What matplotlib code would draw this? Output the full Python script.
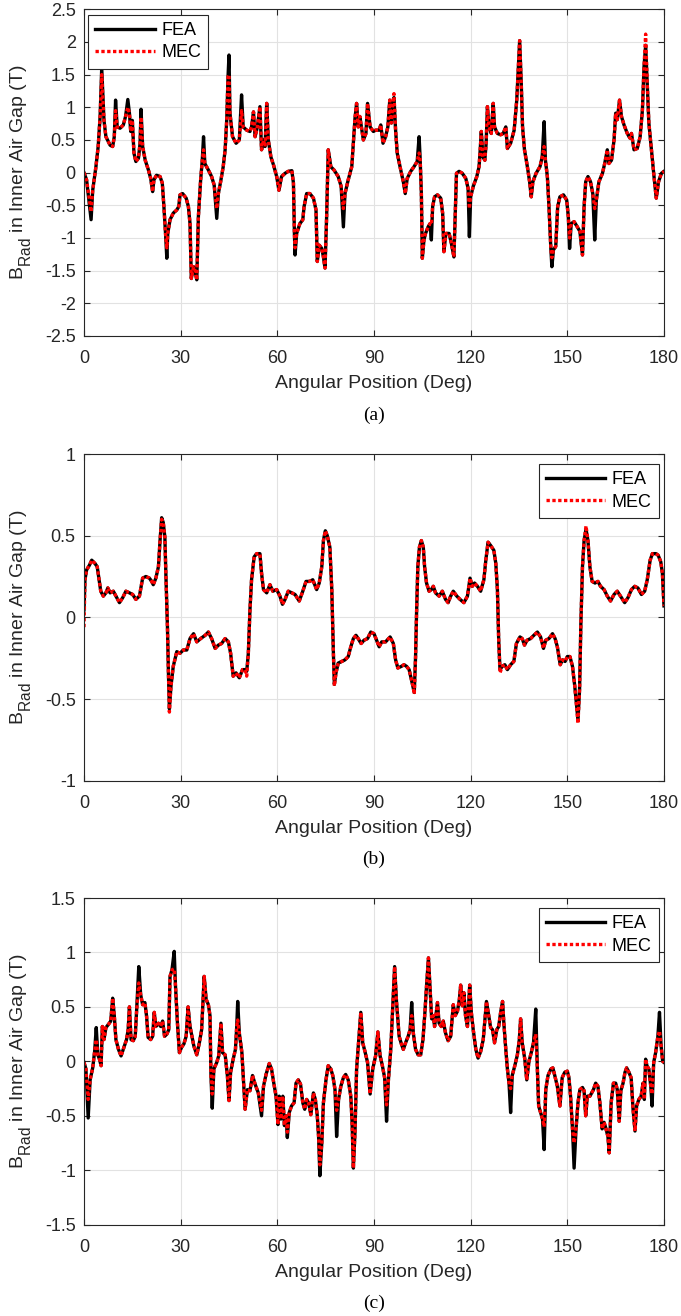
import numpy as np
import matplotlib
matplotlib.use('Agg')
import matplotlib.pyplot as plt
from matplotlib.ticker import FuncFormatter
import matplotlib._mathtext as mt

plt.rcParams['font.family'] = ['Liberation Sans', 'DejaVu Sans']
plt.rcParams['mathtext.fontset'] = 'custom'
plt.rcParams['mathtext.rm'] = 'Liberation Sans'
plt.rcParams['axes.unicode_minus'] = False
# subscript in the y label is large and well lowered in the original
mt.SHRINK_FACTOR = 0.8
mt.FontConstantsBase.sub1 = 0.75

# (angle [deg], B_rad [T])
fea_a = [
    (0, 0), (0.8, -0.11), (2.2, -0.72), (2.7, -0.27), (3.7, 0.09), (4.4, 0.4), (5.0, 0.86), (5.5, 1.6),
    (6.2, 0.8), (6.8, 0.55), (8.1, 0.42), (8.9, 0.4), (9.4, 0.55), (9.8, 1.11), (10.3, 0.7), (11.2, 0.68),
    (12.2, 0.73), (12.9, 0.86), (13.6, 1.12), (14.1, 0.91), (14.5, 0.63), (15.0, 0.8), (15.5, 0.3), (16.1, 0.17),
    (16.9, 0.22), (17.4, 0.45), (17.7, 0.97), (18.2, 0.4), (19.0, 0.19), (20.0, 0.04), (20.7, -0.09), (21.3, -0.29),
    (21.7, -0.11), (22.5, -0.04), (23.6, -0.06), (24.3, -0.16), (24.8, -0.52), (25.3, -0.93), (25.7, -1.31), (26.0, -0.93),
    (26.7, -0.72), (27.7, -0.62), (28.8, -0.57), (29.4, -0.52), (29.8, -0.34), (30.6, -0.32), (31.7, -0.39), (32.4, -0.52),
    (32.9, -0.78), (33.3, -1.62), (34.0, -1.44), (34.4, -1.49), (35.0, -1.64), (35.5, -0.67), (36.2, -0.11), (36.7, 0.19),
    (37.1, 0.55), (37.5, 0.14), (38.6, 0.04), (39.6, -0.06), (40.4, -0.19), (41.2, -0.7), (41.7, -0.32), (42.4, -0.14),
    (43.2, 0.09), (43.8, 0.35), (44.3, 0.81), (44.7, 1.47), (45.0, 1.8), (45.3, 0.91), (46.1, 0.55), (47.2, 0.45),
    (48.2, 0.5), (48.9, 1.19), (49.4, 0.7), (50.5, 0.65), (51.5, 0.63), (52.0, 0.7), (52.6, 0.93), (53.1, 0.55),
    (53.8, 0.7), (54.6, 1.01), (55.1, 0.35), (55.7, 0.5), (56.2, 0.4), (56.7, 1.06), (57.2, 0.5), (58.0, 0.24),
    (58.8, 0.12), (59.8, -0.06), (60.5, -0.27), (61.3, -0.06), (62.4, -0.01), (63.4, 0.02), (64.5, 0.03), (65.0, -0.16),
    (65.3, -0.93), (65.5, -1.26), (66.0, -0.93), (67.0, -0.78), (67.9, -0.72), (68.3, -0.52), (69.1, -0.32), (70.1, -0.32),
    (71.2, -0.39), (72.0, -0.57), (72.4, -1.36), (73.0, -1.11), (73.8, -1.16), (74.3, -1.29), (74.8, -1.46), (75.3, -0.67),
    (75.8, 0.35), (76.6, 0.09), (77.6, 0.04), (78.9, -0.06), (79.8, -0.21), (80.5, -0.83), (81.0, -0.32), (82.0, -0.11),
    (83.1, 0.09), (83.6, 0.45), (84.1, 0.83), (84.6, 1.06), (85.1, 0.7), (85.6, 0.86), (86.7, 0.5), (87.5, 0.6),
    (88.0, 1.06), (88.8, 0.7), (89.8, 0.63), (90.5, 0.65), (91.6, 0.65), (92.1, 0.73), (92.8, 0.45), (93.6, 0.55),
    (94.3, 0.7), (94.9, 1.11), (95.4, 0.76), (95.7, 1.01), (96.2, 1.15), (96.7, 0.65), (97.2, 0.3), (98.3, 0.04),
    (99.1, -0.14), (99.7, -0.32), (100.3, -0.09), (101.4, 0.02), (102.4, 0.09), (103.4, 0.17), (104.0, 0.55), (104.3, 0.24),
    (104.7, -0.32), (105.0, -1.31), (105.5, -1.03), (106.0, -0.93), (106.8, -0.83), (107.4, -0.78), (107.8, -1.03), (108.2, -0.52),
    (108.8, -0.37), (109.7, -0.34), (110.7, -0.39), (111.3, -0.62), (111.7, -1.21), (112.3, -0.93), (113.3, -0.93), (114.0, -1.08),
    (114.8, -1.29), (115.3, -0.52), (115.6, -0.01), (116.4, 0.02), (117.4, -0.01), (118.5, -0.09), (119.2, -0.24), (119.6, -0.98),
    (120.0, -0.37), (120.8, -0.21), (121.9, -0.06), (122.6, 0.09), (122.9, 0.3), (123.3, 0.63), (123.8, 0.24), (124.4, 0.19),
    (124.8, 0.45), (125.2, 1.01), (125.7, 0.7), (126.4, 0.6), (127.0, 1.06), (127.4, 0.7), (128.3, 0.6), (129.3, 0.58),
    (130.1, 0.6), (130.9, 0.7), (131.4, 0.37), (132.4, 0.45), (133.5, 0.65), (134.3, 1.11), (134.8, 1.62), (135.2, 2.02),
    (135.7, 1.37), (136.1, 0.7), (136.7, 0.35), (137.6, 0.09), (138.3, -0.14), (138.8, -0.37), (139.3, -0.14), (140.3, -0.01),
    (141.5, 0.09), (142.2, 0.24), (142.8, 0.78), (143.2, 0.19), (143.8, -0.06), (144.3, -0.52), (144.9, -1.18), (145.2, -1.44),
    (145.7, -1.18), (146.4, -1.13), (147.0, -0.52), (147.7, -0.37), (148.8, -0.34), (149.8, -0.42), (150.3, -0.67), (150.7, -1.16),
    (151.2, -0.78), (152.1, -0.75), (153.1, -0.83), (153.9, -0.9), (154.7, -1.26), (155.2, -0.52), (155.7, -0.14), (156.4, -0.06),
    (157.2, -0.14), (157.9, -0.32), (158.5, -1.03), (159.0, -0.42), (159.8, -0.14), (160.9, -0.01), (161.6, 0.14), (162.4, 0.35),
    (162.9, 0.14), (163.7, 0.19), (164.5, 0.5), (165.0, 0.91), (165.5, 0.81), (166.2, 1.11), (166.8, 0.86), (167.6, 0.73),
    (168.6, 0.6), (169.4, 0.53), (169.9, 0.6), (170.7, 0.35), (171.7, 0.37), (172.6, 0.55), (173.3, 0.96), (173.8, 1.62),
    (174.3, 1.95), (174.8, 1.37), (175.3, 0.76), (176.1, 0.35), (176.9, -0.06), (177.6, -0.39), (178.3, -0.14), (179.2, -0.01),
    (180, 0.02),
]
# MEC follows FEA except at these points
mec_a = [(2.2, -0.6), (5.5, 1.5), (9.8, 0.95), (13.6, 1.0), (17.7, 0.85), (25.7, -1.15), (37.1, 0.35), (41.2, -0.55),
         (45.0, 1.5), (48.9, 0.95), (65.5, -1.15), (80.5, -0.55), (96.2, 1.21), (104.0, 0.3), (107.8, -0.8),
         (119.6, -0.55), (142.8, 0.4), (145.2, -1.3), (150.7, -1.0), (158.5, -0.55), (174.3, 2.12)]

fea_b = [
    (0, 0.045), (0.3, 0.23), (0.8, 0.29), (1.7, 0.32), (2.4, 0.35), (3.4, 0.33), (4.1, 0.31), (4.7, 0.23),
    (5.2, 0.16), (6.0, 0.13), (6.8, 0.15), (7.4, 0.18), (8.1, 0.15), (9.1, 0.16), (9.9, 0.13), (11.0, 0.09),
    (12.0, 0.12), (13.0, 0.16), (14.1, 0.15), (15.1, 0.14), (16.1, 0.11), (17.2, 0.13), (18.2, 0.24), (19.2, 0.25),
    (20.3, 0.24), (21.0, 0.22), (21.5, 0.2), (22.3, 0.24), (23.1, 0.31), (23.6, 0.47), (24.1, 0.61), (24.6, 0.58),
    (25.1, 0.49), (25.4, 0.27), (25.9, -0.06), (26.2, -0.34), (26.5, -0.56), (27.0, -0.42), (27.7, -0.3), (28.8, -0.21),
    (29.8, -0.22), (30.8, -0.2), (31.9, -0.2), (32.9, -0.13), (34.0, -0.1), (35.0, -0.15), (36.2, -0.13), (37.6, -0.11),
    (38.6, -0.09), (39.6, -0.13), (40.7, -0.19), (41.7, -0.17), (42.7, -0.16), (43.8, -0.13), (44.8, -0.15), (45.5, -0.22),
    (46.3, -0.36), (47.2, -0.34), (48.2, -0.37), (49.2, -0.32), (50.0, -0.32), (50.5, -0.33), (51.0, -0.22), (51.5, 0.045),
    (52.0, 0.23), (52.8, 0.37), (53.6, 0.39), (54.6, 0.39), (55.1, 0.27), (55.7, 0.17), (56.7, 0.15), (57.7, 0.2),
    (58.6, 0.16), (59.8, 0.17), (60.8, 0.13), (61.6, 0.08), (62.4, 0.11), (63.4, 0.16), (64.5, 0.15), (65.5, 0.14),
    (66.8, 0.1), (67.9, 0.16), (68.9, 0.22), (70.0, 0.22), (71.0, 0.23), (72.2, 0.17), (73.0, 0.21), (73.8, 0.31),
    (74.3, 0.47), (74.9, 0.53), (75.5, 0.5), (76.3, 0.43), (76.9, 0.17), (77.4, -0.22), (77.7, -0.41), (78.2, -0.34),
    (78.9, -0.28), (80.0, -0.27), (81.0, -0.26), (82.0, -0.24), (82.8, -0.18), (83.6, -0.13), (84.4, -0.11), (85.1, -0.13),
    (86.0, -0.16), (86.9, -0.14), (88.0, -0.13), (89.0, -0.09), (90.0, -0.1), (90.8, -0.14), (91.6, -0.18), (92.4, -0.15),
    (93.6, -0.15), (95.0, -0.12), (96.0, -0.16), (96.7, -0.26), (97.4, -0.31), (98.5, -0.3), (99.3, -0.29), (100.1, -0.3),
    (100.9, -0.32), (101.6, -0.38), (102.2, -0.43), (102.5, -0.46), (102.9, -0.24), (103.2, 0.02), (103.6, 0.31), (104.1, 0.43),
    (104.7, 0.47), (105.3, 0.43), (105.7, 0.31), (106.3, 0.21), (107.1, 0.16), (107.8, 0.17), (108.4, 0.19), (109.1, 0.15),
    (110.2, 0.13), (111.2, 0.16), (112.2, 0.11), (113.0, 0.09), (113.8, 0.13), (114.6, 0.16), (115.7, 0.13), (116.7, 0.11),
    (117.9, 0.09), (119.0, 0.13), (119.8, 0.24), (120.5, 0.19), (121.2, 0.21), (122.1, 0.19), (123.1, 0.16), (124.1, 0.23),
    (124.7, 0.35), (125.4, 0.46), (126.2, 0.44), (127.2, 0.41), (127.8, 0.33), (128.3, 0.17), (128.7, -0.14), (129.1, -0.32),
    (129.8, -0.3), (130.6, -0.29), (131.4, -0.32), (132.4, -0.29), (133.4, -0.27), (134.2, -0.16), (135.3, -0.12), (136.0, -0.13),
    (136.7, -0.17), (137.5, -0.14), (138.6, -0.13), (139.6, -0.11), (140.7, -0.09), (141.7, -0.12), (142.6, -0.19), (143.3, -0.14),
    (144.3, -0.13), (145.4, -0.1), (146.2, -0.13), (146.9, -0.18), (147.8, -0.29), (148.5, -0.26), (149.3, -0.27), (150.0, -0.24),
    (150.8, -0.24), (151.6, -0.3), (152.3, -0.42), (152.9, -0.55), (153.3, -0.63), (153.8, -0.44), (154.2, -0.04), (154.7, 0.31),
    (155.2, 0.47), (155.8, 0.54), (156.4, 0.47), (157.0, 0.31), (157.7, 0.22), (158.6, 0.21), (159.5, 0.22), (160.3, 0.19),
    (161.4, 0.17), (162.4, 0.13), (163.4, 0.1), (164.5, 0.14), (165.5, 0.16), (166.5, 0.13), (167.8, 0.09), (168.8, 0.12),
    (169.9, 0.17), (170.9, 0.19), (171.9, 0.18), (173.0, 0.14), (174.0, 0.16), (174.8, 0.23), (175.7, 0.35), (176.4, 0.39),
    (177.5, 0.39), (178.2, 0.38), (179.0, 0.34), (179.5, 0.27), (180.0, 0.07),
]
mec_b = [(0, -0.06), (24.1, 0.6), (26.5, -0.58), (50.5, -0.36), (77.7, -0.42), (102.5, -0.47), (129.1, -0.34),
         (153.3, -0.65), (155.8, 0.56)]

fea_c = [
    (0, -0.01), (0.6, -0.07), (1.3, -0.52), (1.9, -0.17), (2.7, -0.06), (3.3, 0.09), (3.8, 0.31), (4.3, 0.06),
    (4.8, 0.02), (5.3, -0.04), (5.7, 0.32), (6.2, 0.2), (6.8, 0.31), (7.6, 0.34), (8.3, 0.37), (8.9, 0.58),
    (9.4, 0.42), (9.9, 0.2), (10.7, 0.11), (11.5, 0.05), (12.4, 0.13), (13.2, 0.2), (13.7, 0.29), (14.1, 0.5),
    (14.6, 0.2), (15.3, 0.19), (15.9, 0.23), (16.3, 0.45), (17.0, 0.87), (17.6, 0.61), (18.2, 0.52), (18.9, 0.54),
    (19.4, 0.42), (19.9, 0.22), (20.7, 0.2), (21.3, 0.23), (21.8, 0.45), (22.3, 0.32), (23.1, 0.35), (23.8, 0.32),
    (24.4, 0.37), (25.0, 0.23), (25.7, 0.25), (26.3, 0.29), (26.7, 0.78), (27.3, 0.84), (28.0, 1.01), (28.4, 0.69),
    (29.0, 0.35), (29.6, 0.08), (30.3, 0.13), (31.0, 0.16), (31.7, 0.23), (32.3, 0.5), (32.9, 0.32), (33.5, 0.23),
    (34.1, 0.14), (35.0, 0.06), (35.8, 0.17), (36.5, 0.29), (36.8, 0.48), (37.3, 0.78), (37.9, 0.57), (38.6, 0.52),
    (39.1, 0.42), (39.4, -0.13), (39.8, -0.43), (40.3, -0.07), (41.2, -0.01), (41.8, 0.05), (42.5, 0.35), (43.0, 0.08),
    (43.8, 0.06), (44.5, -0.13), (45.0, -0.36), (45.5, -0.1), (46.3, 0.02), (47.0, 0.11), (47.4, 0.32), (47.7, 0.55),
    (48.2, 0.26), (49.0, 0.08), (49.4, -0.13), (50.0, -0.44), (50.7, -0.26), (51.5, -0.27), (52.3, -0.13), (53.1, -0.21),
    (54.1, -0.29), (55.1, -0.5), (55.7, -0.23), (56.5, -0.12), (57.5, -0.02), (58.2, -0.07), (58.9, -0.2), (59.6, -0.32),
    (60.2, -0.58), (60.6, -0.32), (61.1, -0.53), (61.7, -0.32), (62.2, -0.59), (62.7, -0.5), (63.1, -0.7), (63.7, -0.47),
    (64.4, -0.41), (65.2, -0.38), (65.8, -0.2), (66.5, -0.17), (67.2, -0.21), (67.9, -0.38), (68.5, -0.44), (69.1, -0.35),
    (69.7, -0.38), (70.4, -0.49), (71.2, -0.29), (71.8, -0.35), (72.4, -0.5), (72.8, -0.69), (73.2, -1.05), (73.8, -0.75),
    (74.3, -0.38), (75.1, -0.17), (75.8, -0.04), (76.6, -0.07), (77.2, -0.13), (77.9, -0.26), (78.4, -0.69), (79.0, -0.35),
    (79.7, -0.23), (80.5, -0.15), (81.2, -0.12), (82.0, -0.17), (82.8, -0.32), (83.2, -0.56), (83.6, -0.98), (84.1, -0.65),
    (84.6, -0.07), (85.2, 0.17), (85.9, 0.45), (86.5, 0.17), (87.2, 0.09), (88.0, -0.01), (88.8, -0.3), (89.6, -0.07),
    (90.5, 0.05), (91.2, 0.27), (91.9, 0.05), (92.6, -0.04), (93.3, -0.15), (93.9, -0.55), (94.4, -0.2), (95.2, 0.11),
    (95.7, 0.42), (96.4, 0.87), (97.0, 0.54), (97.8, 0.23), (98.5, 0.16), (99.1, 0.11), (99.8, 0.17), (100.6, 0.23),
    (101.2, 0.29), (101.7, 0.54), (102.2, 0.26), (102.9, 0.11), (103.7, 0.06), (104.5, 0.06), (105.2, 0.2), (105.8, 0.45),
    (106.3, 0.69), (106.9, 0.95), (107.4, 0.66), (107.9, 0.39), (108.4, 0.42), (108.8, 0.32), (109.2, 0.42), (109.7, 0.54),
    (110.2, 0.35), (110.9, 0.32), (111.5, 0.37), (112.2, 0.26), (113.0, 0.19), (113.8, 0.23), (114.6, 0.52), (115.2, 0.42),
    (115.9, 0.46), (116.5, 0.57), (116.9, 0.7), (117.4, 0.51), (117.9, 0.63), (118.4, 0.42), (119.0, 0.32), (119.7, 0.7),
    (120.2, 0.45), (120.8, 0.29), (121.6, 0.11), (122.3, 0.03), (123.1, 0.09), (123.9, 0.2), (124.4, 0.37), (124.9, 0.55),
    (125.6, 0.42), (126.2, 0.31), (126.8, 0.29), (127.4, 0.17), (128.1, 0.29), (128.7, 0.32), (129.3, 0.45), (129.9, 0.55),
    (130.3, 0.35), (130.9, 0.11), (131.4, -0.07), (131.9, -0.2), (132.4, -0.47), (132.9, -0.13), (133.7, -0.04), (134.5, 0.06),
    (135.1, 0.2), (135.5, 0.39), (136.0, 0.17), (136.8, 0.02), (137.4, -0.17), (138.1, 0.0), (138.8, 0.08), (139.5, 0.17),
    (140.2, 0.48), (140.7, -0.07), (141.1, -0.41), (141.7, -0.47), (142.3, -0.53), (142.8, -0.81), (143.3, -0.26), (144.0, -0.13),
    (144.9, -0.07), (145.5, -0.06), (146.1, -0.13), (146.9, -0.23), (147.7, -0.41), (148.4, -0.15), (149.2, -0.1), (150.0, -0.09),
    (150.5, -0.15), (151.0, -0.32), (151.6, -0.62), (152.1, -0.98), (152.7, -0.62), (153.3, -0.38), (153.9, -0.26), (154.7, -0.24),
    (155.2, -0.27), (155.7, -0.5), (156.2, -0.32), (157.0, -0.32), (158.1, -0.26), (158.8, -0.2), (159.5, -0.23), (160.1, -0.38),
    (160.8, -0.62), (161.4, -0.56), (162.0, -0.62), (162.6, -0.69), (163.0, -0.84), (163.6, -0.38), (164.3, -0.2), (165.0, -0.2),
    (165.5, -0.26), (166.1, -0.55), (166.6, -0.27), (167.3, -0.2), (167.9, -0.1), (168.4, -0.06), (169.1, -0.1), (169.8, -0.15),
    (170.4, -0.44), (171.0, -0.64), (171.5, -0.41), (172.2, -0.35), (172.9, -0.32), (173.5, -0.2), (173.9, -0.35), (174.3, 0.02),
    (174.7, -0.04), (175.3, -0.07), (175.9, -0.23), (176.3, -0.41), (176.8, -0.01), (177.4, 0.08), (178.1, 0.23), (178.6, 0.45),
    (179.1, 0.14), (179.6, 0.0), (180.0, -0.01),
]
mec_c = [(1.3, -0.35), (3.8, 0.2), (17.0, 0.72), (28.0, 0.85), (39.8, -0.3), (47.7, 0.38), (55.1, -0.45),
         (63.1, -0.65), (73.2, -0.95), (78.4, -0.45), (93.9, -0.4), (101.7, 0.42), (132.4, -0.25), (140.2, 0.25),
         (142.8, -0.6), (152.1, -0.75), (176.3, -0.3), (178.6, 0.28)]

ylims = [(-2.5, 2.5), (-1, 1), (-1.5, 1.5)]
captions = ['(a)', '(b)', '(c)']

GRAY = '#262626'


def series(fea, mec_pts):
    ang = np.array([p[0] for p in fea], dtype=float)
    b_fea = np.array([p[1] for p in fea], dtype=float)
    b_mec = b_fea.copy()
    for a, v in mec_pts:
        b_mec[np.argmin(np.abs(ang - a))] = v
    return ang, b_fea, b_mec


fig = plt.figure(figsize=(6.81, 13.16), dpi=100)
H = 1316.0
tops = [9.3, 454.0, 898.0]
ax_h = 326.7
panels = [(fea_a, mec_a), (fea_b, mec_b), (fea_c, mec_c)]

for i, (fea, mec) in enumerate(panels):
    ang, b_fea, b_mec = series(fea, mec)
    top = tops[i]
    ax = fig.add_axes([84 / 681, 1 - (top + ax_h) / H, 580 / 681, ax_h / H])
    ax.plot(ang, b_fea, color='k', lw=2.4, label='FEA')
    ax.plot(ang, b_mec, color='r', lw=2.4, linestyle=(0, (1.0, 0.75)), label='MEC')

    lo, hi = ylims[i]
    ax.set_xlim(0, 180)
    ax.set_ylim(lo, hi)
    ax.set_xticks(np.arange(0, 181, 30))
    ax.set_yticks(np.arange(lo, hi + 0.01, 0.5))
    ax.yaxis.set_major_formatter(FuncFormatter(lambda v, p: f'{v:g}'))
    ax.grid(True, color='#e2e2e2', lw=0.8)
    ax.set_axisbelow(True)
    ax.tick_params(direction='in', top=True, right=True, length=4, width=0.8,
                   colors=GRAY, labelsize=13)
    ax.tick_params(axis='x', pad=10)
    ax.tick_params(axis='y', pad=6)
    for s in ax.spines.values():
        s.set_color(GRAY)
        s.set_linewidth(0.8)
    ax.set_xlabel('Angular Position (Deg)', fontsize=14, color=GRAY, labelpad=6)
    ax.set_ylabel(r'B$_{\mathrm{Rad}}$ in Inner Air Gap (T)', fontsize=14, color=GRAY, labelpad=8)

    if i == 0:
        loc, anchor = 'upper left', (0.007, 0.983)
    else:
        loc, anchor = 'upper right', (0.991, 0.969)
    leg = ax.legend(loc=loc, bbox_to_anchor=anchor, borderaxespad=0, fontsize=13,
                    handlelength=3.3, handletextpad=0.35, borderpad=0.4, labelspacing=0.3,
                    fancybox=False, framealpha=1, edgecolor=GRAY)
    leg.get_frame().set_linewidth(0.8)
    for t in leg.get_texts():
        t.set_color('k')

    fig.text(374 / 681, 1 - (top + ax_h + 79) / H, captions[i], family='Liberation Serif',
             fontsize=14, ha='center', va='center', color='k')

fig.savefig('out.png', dpi=100)
